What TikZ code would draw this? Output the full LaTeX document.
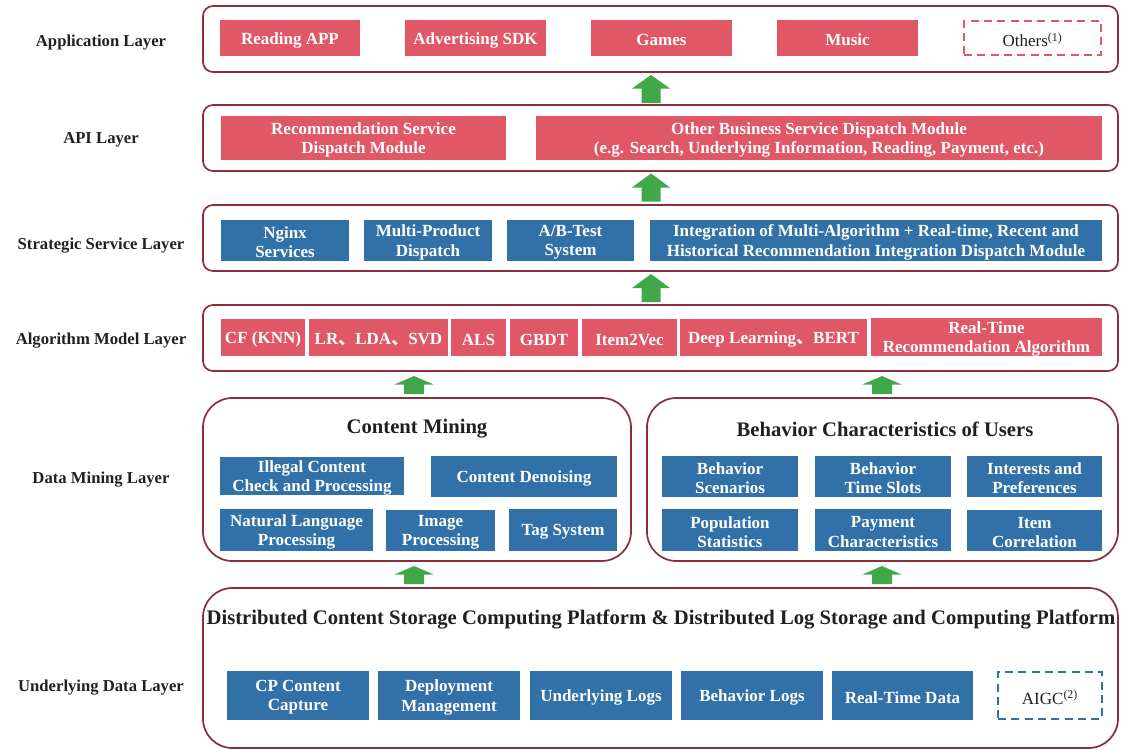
\documentclass[tikz,border=0pt]{standalone}
\usepackage{fontspec}
\setmainfont{Liberation Serif}
\newfontfamily\cjk{Noto Sans CJK SC}
\usetikzlibrary{fit}
\definecolor{redC}{HTML}{E05866}
\definecolor{blueC}{HTML}{3271A7}
\definecolor{greenC}{HTML}{40A848}
\definecolor{frameC}{HTML}{8B2F3E}
\definecolor{txtC}{HTML}{231F20}
\tikzset{
  frame/.style={draw=frameC, line width=1.3pt, rounded corners=7.5pt, inner sep=0pt},
  bigframe/.style={draw=frameC, line width=1.3pt, rounded corners=22pt, inner sep=0pt},
  rbox/.style={fill=redC, inner sep=0pt},
  bbox/.style={fill=blueC, inner sep=0pt},
  rdash/.style={inner sep=0pt, draw=redC, line width=1.5pt, dash pattern=on 6pt off 4pt},
  bdash/.style={inner sep=0pt, draw=blueC, line width=1.5pt, dash pattern=on 6pt off 4pt},
  wtxt/.style={inner sep=0pt, yshift=-1.5pt, align=center, text=white, font=\bfseries\fontsize{12.75}{14.5}\selectfont},
  dtxt/.style={inner sep=0pt, yshift=-1.5pt, align=center, text=txtC, font=\fontsize{12.75}{14.5}\selectfont},
  layerlbl/.style={yshift=-1.5pt, text=txtC, font=\bfseries\fontsize{12.5}{14}\selectfont},
  titletxt/.style={yshift=-1.5pt, text=txtC, font=\bfseries\fontsize{15.5}{18}\selectfont},
  greenarrow/.style={fill=greenC},
}
% #1 box style, #2 text style, #3 name, #4-#7 corners, #8 text
\newcommand\mybox[8]{\node[#1, fit={(#4,#5) (#6,#7)}] (#3) {};
  \node[#2] (#3-t) at (#3.center) {#8};}
\newcommand\myframe[6]{\node[#1, fit={(#3,#4) (#5,#6)}] (#2) {};}
\newcommand\uparr[6]{\fill[greenarrow] (#1,#2) -- (#1+#5,#3) -- (#1+#6,#3) -- (#1+#6,#4) -- (#1-#6,#4) -- (#1-#6,#3) -- (#1-#5,#3) -- cycle;}
\begin{document}
\begin{tikzpicture}[x=0.75pt, y=-0.75pt]
\useasboundingbox (0,0) rectangle (1122,750);

% layer labels
\node[layerlbl] (lApp) at (101,41) {Application Layer};
\node[layerlbl] (lApi) at (101,138) {API Layer};
\node[layerlbl] (lStr) at (101,244) {Strategic Service Layer};
\node[layerlbl] (lAlg) at (101,339) {Algorithm Model Layer};
\node[layerlbl] (lDm) at (101,478) {Data Mining Layer};
\node[layerlbl] (lUd) at (101,686) {Underlying Data Layer};

% frames
\myframe{frame}{fApp}{203}{6}{1118}{72}
\myframe{frame}{fApi}{203}{105}{1118}{171}
\myframe{frame}{fStr}{203}{205}{1118}{271}
\myframe{frame}{fAlg}{203}{305}{1118}{371}
\myframe{bigframe}{fCm}{203}{398}{631}{561}
\myframe{bigframe}{fBc}{647}{398}{1118}{561}
\myframe{bigframe}{fUd}{203}{588}{1118}{748}

% application layer
\mybox{rbox}{wtxt}{a1}{220}{20}{360}{56}{Reading APP}
\mybox{rbox}{wtxt}{a2}{405}{20}{546}{56}{Advertising SDK}
\mybox{rbox}{wtxt}{a3}{591}{20}{732}{56}{Games}
\mybox{rbox}{wtxt}{a4}{777}{20}{918}{56}{Music}
\mybox{rdash}{dtxt}{a5}{964}{21}{1101}{55}{Others\textsuperscript{(1)}}

% API layer
\mybox{rbox}{wtxt}{p1}{221}{116}{506}{160}{Recommendation Service\\Dispatch Module}
\mybox{rbox}{wtxt}{p2}{536}{116}{1102}{160}{Other Business Service Dispatch Module\\(e.g. Search, Underlying Information, Reading, Payment, etc.)}

% strategic service layer
\mybox{bbox}{wtxt}{s1}{221}{220}{349}{261}{Nginx\\Services}
\mybox{bbox}{wtxt}{s2}{364}{220}{492}{261}{Multi-Product\\Dispatch}
\mybox{bbox}{wtxt}{s3}{507}{220}{634}{261}{A/B-Test\\System}
\mybox{bbox}{wtxt}{s4}{650}{220}{1102}{261}{Integration of Multi-Algorithm + Real-time, Recent and\\Historical Recommendation Integration Dispatch Module}

% algorithm model layer
\mybox{rbox}{wtxt}{m1}{221}{319}{305}{356}{CF (KNN)}
\mybox{rbox}{wtxt}{m2}{309}{319}{448}{356}{LR{\cjk 、}LDA{\cjk 、}SVD}
\mybox{rbox}{wtxt}{m3}{451}{319}{506}{356}{ALS}
\mybox{rbox}{wtxt}{m4}{510}{319}{578}{356}{GBDT}
\mybox{rbox}{wtxt}{m5}{582}{319}{677}{356}{Item2Vec}
\mybox{rbox}{wtxt}{m6}{680}{319}{867}{356}{Deep Learning{\cjk 、}BERT}
\mybox{rbox}{wtxt}{m7}{871}{318}{1102}{356}{Real-Time\\Recommendation Algorithm}

% data mining layer
\node[titletxt] (tCm) at (417,427) {Content Mining};
\mybox{bbox}{wtxt}{c1}{220}{457}{404}{495}{Illegal Content\\Check and Processing}
\mybox{bbox}{wtxt}{c2}{431}{456}{617}{497}{Content Denoising}
\mybox{bbox}{wtxt}{c3}{220}{509}{373}{551}{Natural Language\\Processing}
\mybox{bbox}{wtxt}{c4}{386}{510}{495}{551}{Image\\Processing}
\mybox{bbox}{wtxt}{c5}{509}{509}{617}{551}{Tag System}

\node[titletxt] (tBc) at (885,427) {Behavior Characteristics of Users};
\mybox{bbox}{wtxt}{b1}{662}{456}{798}{497}{Behavior\\Scenarios}
\mybox{bbox}{wtxt}{b2}{815}{456}{951}{497}{Behavior\\Time Slots}
\mybox{bbox}{wtxt}{b3}{967}{456}{1102}{497}{Interests and\\Preferences}
\mybox{bbox}{wtxt}{b4}{662}{509}{798}{551}{Population\\Statistics}
\mybox{bbox}{wtxt}{b5}{815}{509}{951}{551}{Payment\\Characteristics}
\mybox{bbox}{wtxt}{b6}{967}{510}{1102}{551}{Item\\Correlation}

% underlying data layer
\node[titletxt] (tUd) at (661,617) {Distributed Content Storage Computing Platform \& Distributed Log Storage and Computing Platform};
\mybox{bbox}{wtxt}{u1}{227}{671}{369}{720}{CP Content\\Capture}
\mybox{bbox}{wtxt}{u2}{378}{671}{520}{720}{Deployment\\Management}
\mybox{bbox}{wtxt}{u3}{530}{671}{672}{720}{Underlying Logs}
\mybox{bbox}{wtxt}{u4}{681}{671}{823}{720}{Behavior Logs}
\mybox{bbox}{wtxt}{u5}{832}{671}{973}{720}{Real-Time Data}
\mybox{bdash}{dtxt}{u6}{998}{672}{1102}{719}{AIGC\textsuperscript{(2)}}

% green arrows
\uparr{651}{75}{88.5}{103}{19}{9.5}
\uparr{651}{173.5}{187.5}{201.5}{19}{9.5}
\uparr{651}{274}{288}{302}{19}{9.5}
\uparr{414}{376}{384.5}{394}{19.5}{10}
\uparr{882}{376}{384.5}{394}{19.5}{10}
\uparr{414}{566}{574.5}{584}{19.5}{10}
\uparr{882}{566}{574.5}{584}{19.5}{10}
\end{tikzpicture}
\end{document}
